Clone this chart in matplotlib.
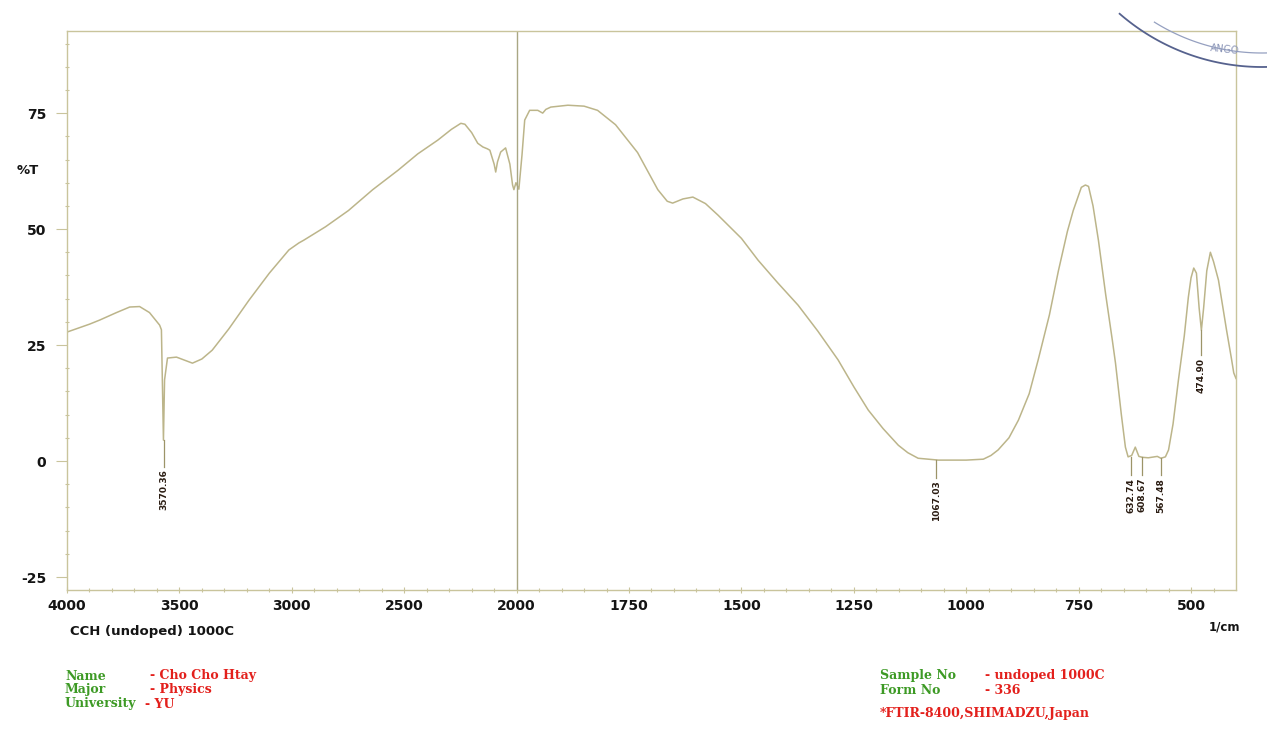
import numpy as np
import matplotlib
matplotlib.use("Agg")
import matplotlib.pyplot as plt
from matplotlib.ticker import FixedLocator, NullFormatter

# spectrum (wavenumber 1/cm, %T)
wavenumber = [4000, 3900, 3854, 3780, 3721, 3677, 3633, 3600, 3588, 3580, 3571, 3566, 3553,
              3513, 3442, 3400, 3354, 3280, 3190, 3100, 3013, 2969, 2947, 2850, 2748, 2640,
              2527, 2440, 2350, 2290, 2248, 2230, 2200, 2173, 2150, 2130, 2119, 2100, 2093,
              2085, 2071, 2049, 2030, 2018, 2012, 2003, 1995, 1988, 1982, 1971, 1953, 1942,
              1935, 1924, 1886, 1850, 1820, 1780, 1731, 1700, 1686, 1665, 1653, 1630, 1608,
              1580, 1552, 1500, 1463, 1420, 1374, 1330, 1285, 1250, 1218, 1185, 1151, 1130,
              1107, 1062, 1000, 962, 945, 929, 905, 884, 860, 840, 815, 795, 775, 762, 744,
              735, 728, 718, 706, 690, 675, 668, 655, 646, 640, 632, 624, 616, 608, 595, 575,
              567, 557, 550, 540, 528, 515, 506, 500, 494, 488, 482, 477, 472, 465, 457, 450,
              439, 421, 410, 405, 400]
transmittance = [27.8, 29.5, 30.4, 32.0, 33.2, 33.3, 32.0, 30.0, 29.3, 28.3, 4.5, 17.5, 22.2,
                 22.4, 21.1, 22.0, 23.9, 28.5, 34.7, 40.5, 45.5, 47.0, 47.6, 50.5, 54.0, 58.5,
                 62.7, 66.2, 69.2, 71.5, 72.8, 72.6, 70.8, 68.5, 67.7, 67.3, 67.0, 64.0, 62.3,
                 64.5, 66.6, 67.5, 64.0, 59.5, 58.5, 60.0, 58.6, 66.0, 73.5, 75.6, 75.6, 75.0,
                 75.8, 76.3, 76.7, 76.5, 75.6, 72.5, 66.5, 61.0, 58.5, 56.0, 55.6, 56.5, 56.9,
                 55.5, 53.0, 48.0, 43.3, 38.5, 33.6, 28.0, 21.8, 16.0, 11.0, 7.0, 3.4, 1.8,
                 0.6, 0.2, 0.2, 0.4, 1.2, 2.4, 5.0, 8.8, 14.5, 21.8, 31.5, 41.0, 49.5, 54.0, 59.0,
                 59.5, 59.2, 55.0, 47.6, 36.0, 26.0, 21.1, 10.0, 3.0, 0.9, 1.2, 3.0, 1.0, 0.8, 0.7, 1.0,
                 0.6, 0.9, 2.4, 8.0, 17.5, 27.0, 35.3, 39.5, 41.6, 40.5, 33.0, 28.2, 33.0, 41.0, 45.0, 43.0,
                 39.0, 28.2, 22.0, 19.0, 17.8]

# peak picks: position, %T at the peak, top of the printed label
peak_wn = [3570.36, 1067.03, 632.74, 608.67, 567.48, 477.0]
peak_T = [4.5, 0.2, 0.9, 0.8, 0.6, 28.2]
peak_label_y = [-1.8, -4.2, -3.6, -3.6, -3.6, 22.3]
peak_labels = ["3570.36", "1067.03", "632.74", "608.67", "567.48", "474.90"]

x_ticks = [4000, 3500, 3000, 2500, 2000, 1750, 1500, 1250, 1000, 750, 500]
y_ticks = [-25, 0, 25, 50, 75]

frame_col = "#c9c49c"
line_col = "#bcb58a"


def fwd(x):
    x = np.asarray(x, dtype=float)
    return np.where(x > 2000, 2000 + (x - 2000) / 2.0, x)


def inv(u):
    u = np.asarray(u, dtype=float)
    return np.where(u > 2000, 2000 + (u - 2000) * 2.0, u)


W, H = 1267, 747
fig = plt.figure(figsize=(W / 100, H / 100), dpi=100)
fig.patch.set_facecolor("white")
ax = fig.add_axes([67 / W, 1 - 590 / H, (1236 - 67) / W, (590 - 31) / H])

ax.set_xscale("function", functions=(fwd, inv))
ax.plot(wavenumber, transmittance, color=line_col, lw=1.1)
ax.axvline(2000, color="#a9a784", lw=1.0)

# peak markers and labels
for wn, t, ly, lab in zip(peak_wn, peak_T, peak_label_y, peak_labels):
    ax.plot([wn, wn], [t, ly + 0.6], color="#9c9468", lw=0.9)
    ax.text(wn, ly, lab, rotation=90, ha="center", va="top", fontsize=6.5,
            fontweight="bold", color="#2a1c12", family="DejaVu Sans")

ax.set_xlim(4000, 400)
ax.set_ylim(-27.8, 92.7)

ax.xaxis.set_major_locator(FixedLocator(x_ticks))
ax.xaxis.set_minor_locator(FixedLocator(list(range(4000, 2000, -100)) + list(range(2000, 400, -50))))
ax.xaxis.set_minor_formatter(NullFormatter())
ax.set_xticklabels([str(v) for v in x_ticks])
ax.yaxis.set_major_locator(FixedLocator(y_ticks))
ax.yaxis.set_minor_locator(FixedLocator(list(range(-25, 95, 5))))
ax.set_yticklabels([str(v) for v in y_ticks])

ax.tick_params(axis="x", which="major", direction="inout", length=5, width=0.8,
               color=frame_col, pad=4)
ax.tick_params(axis="x", which="minor", direction="inout", length=3, width=0.8, color=frame_col)
ax.tick_params(axis="y", which="major", direction="out", length=8, width=0.8,
               color=frame_col, pad=7)
ax.tick_params(axis="y", which="minor", direction="inout", length=3, width=0.8, color=frame_col)
for lab in ax.get_xticklabels() + ax.get_yticklabels():
    lab.set_fontfamily("DejaVu Sans")
    lab.set_fontweight("bold")
    lab.set_fontsize(10)
    lab.set_color("#141414")

for sp in ax.spines.values():
    sp.set_color(frame_col)
    sp.set_linewidth(1.0)

# overlay in pixel coordinates for loose texts and the stamp
ov = fig.add_axes([0, 0, 1, 1], zorder=5)
ov.set_xlim(0, W)
ov.set_ylim(H, 0)
ov.axis("off")
ov.patch.set_alpha(0)

bold_sans = dict(family="DejaVu Sans", fontweight="bold", color="#141414")
ov.text(17, 170, "%T", fontsize=9.5, va="center", ha="left", **bold_sans)
ov.text(70, 632, "CCH (undoped) 1000C", fontsize=9.5, va="center", ha="left", **bold_sans)
ov.text(1209, 627, "1/cm", fontsize=8.5, va="center", ha="left", **bold_sans)

green = "#3d9a25"
red = "#e3201c"
serif = dict(family="DejaVu Serif", fontweight="bold", fontsize=9, va="center", ha="left")
ov.text(65, 676, "Name", color=green, **serif)
ov.text(150, 676, "- Cho Cho Htay", color=red, **serif)
ov.text(65, 690, "Major", color=green, **serif)
ov.text(150, 690, "- Physics", color=red, **serif)
ov.text(65, 704, "University", color=green, **serif)
ov.text(145, 704, "- YU", color=red, **serif)

ov.text(880, 676, "Sample No", color=green, **serif)
ov.text(985, 676, "- undoped 1000C", color=red, **serif)
ov.text(880, 690, "Form No", color=green, **serif)
ov.text(985, 690, "- 336", color=red, **serif)
ov.text(880, 714, "*FTIR-8400,SHIMADZU,Japan", color=red, **serif)

# partial stamp in the top right corner
t = np.radians(np.linspace(86, 131, 80))
ov.plot(1262 + 217 * np.cos(t), -150 + 217 * np.sin(t), color="#56628e", lw=1.3)
t2 = np.radians(np.linspace(86, 122, 60))
ov.plot(1262 + 203 * np.cos(t2), -150 + 203 * np.sin(t2), color="#95a0c0", lw=0.9)
ov.text(1210, 50, "ANGO", fontsize=7, color="#8c96b8", rotation=-6, va="center", ha="left",
        family="DejaVu Sans")

fig.savefig("out.png", dpi=100)
